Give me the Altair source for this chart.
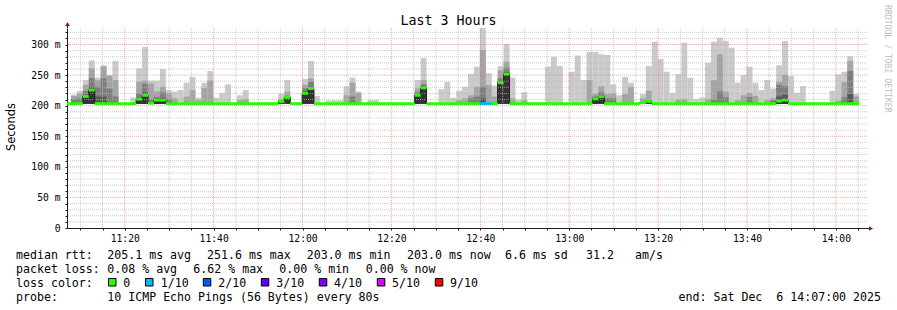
import altair as alt
import numpy as np
import pandas as pd

# ---------------- data ----------------
FIRST_STEP = "2025-12-06 11:06:34"      # start of first 80 s RRD step
STEP_S = 80

median_ms = [
    203.3, 203.3, 203.3, 215.0, 225.5, 203.3, 203.3, 203.3, 203.3, 203.3,
    203.3, 203.3, 210.5, 217.0, 204.0, 209.0, 209.0, 203.3, 203.3, 203.3,
    203.3, 203.3, 203.3, 203.3, 203.3, 203.3, 203.3, 203.3, 203.3, 203.3,
    203.3, 203.3, 203.3, 203.3, 203.3, 203.3, 207.0, 213.5, 203.3, 203.3,
    220.0, 228.0, 203.3, 203.3, 203.3, 203.3, 203.3, 203.3, 203.3, 203.3,
    203.3, 203.3, 203.3, 203.3, 203.3, 203.3, 203.3, 203.3, 203.3, 217.0,
    229.0, 203.3, 203.3, 203.3, 203.3, 203.3, 203.3, 203.3, 203.3, 203.3,
    203.3, 203.3, 203.3, 237.5, 251.6, 203.3, 203.3, 203.3, 203.3, 203.3,
    203.3, 203.3, 203.3, 203.3, 203.3, 203.3, 203.3, 203.3, 203.3, 211.0,
    214.6, 203.3, 203.3, 203.3, 203.3, 203.3, 203.3, 205.0, 207.0, 203.3,
    203.3, 203.3, 203.3, 203.3, 203.3, 203.3, 203.3, 203.3, 203.3, 203.3,
    203.3, 203.3, 203.3, 203.3, 203.3, 203.3, 203.3, 203.3, 203.3, 203.3,
    207.5, 209.0, 203.3, 203.3, 203.3, 203.3, 203.3, 203.3, 203.3, 203.3,
    203.3, 203.3, 203.3, 203.3,
]
# highest ping of each step (lightest smoke)
ping10_ms = [
    203.3, 218.0, 224.0, 242.0, 274.0, 246.0, 266.0, 250.0, 273.0, 203.3,
    203.3, 213.5, 261.0, 296.0, 241.0, 241.0, 260.0, 225.5, 223.0, 225.5,
    237.5, 247.0, 213.0, 237.5, 256.6, 213.0, 221.0, 235.0, 203.3, 217.0,
    225.5, 203.3, 203.3, 203.3, 203.3, 203.3, 220.0, 242.0, 203.3, 203.3,
    243.5, 273.0, 215.7, 203.3, 208.5, 209.0, 209.0, 232.0, 246.0, 223.0,
    203.3, 209.0, 209.0, 203.3, 203.3, 203.3, 203.3, 203.3, 203.3, 242.0,
    278.0, 203.3, 203.3, 227.0, 239.0, 213.0, 224.5, 231.0, 252.0, 263.6,
    328.0, 253.0, 232.7, 265.0, 301.0, 246.0, 210.0, 222.0, 203.3, 203.3,
    203.3, 264.0, 280.0, 265.0, 203.3, 255.5, 282.0, 242.0, 288.0, 288.0,
    284.0, 283.0, 235.0, 217.0, 247.0, 237.5, 203.3, 219.0, 265.0, 304.6,
    276.0, 255.5, 221.0, 251.7, 303.0, 245.7, 211.0, 213.5, 270.0, 304.6,
    311.0, 305.7, 294.8, 237.5, 250.0, 263.6, 237.5, 225.5, 242.0, 228.0,
    266.0, 305.7, 248.4, 221.0, 232.0, 203.3, 203.3, 203.3, 203.3, 224.5,
    251.0, 255.5, 281.0, 219.0,
]
ping9_ms = [
    203.3, 216.0, 220.0, 234.0, 261.0, 242.0, 264.0, 249.0, 242.0, 203.3,
    203.3, 203.3, 239.0, 241.0, 236.0, 223.0, 231.0, 221.0, 212.0, 203.3,
    214.6, 225.5, 209.0, 229.0, 241.0, 203.3, 203.3, 203.3, 203.3, 209.0,
    211.0, 203.3, 203.3, 203.3, 203.3, 203.3, 211.0, 223.0, 203.3, 203.3,
    234.0, 244.6, 203.3, 203.3, 203.3, 203.3, 203.3, 217.0, 237.5, 221.0,
    203.3, 203.3, 203.3, 203.3, 203.3, 203.3, 203.3, 203.3, 203.3, 228.0,
    242.0, 203.3, 203.3, 203.3, 203.3, 203.3, 209.0, 212.0, 217.0, 231.0,
    291.0, 234.0, 215.0, 258.0, 272.0, 212.0, 203.3, 209.0, 203.3, 203.3,
    203.3, 203.3, 203.3, 203.3, 203.3, 203.3, 203.3, 203.3, 242.0, 220.0,
    232.0, 219.0, 220.0, 203.3, 219.0, 231.0, 203.3, 212.0, 224.5, 203.3,
    203.3, 203.3, 203.3, 210.0, 211.0, 203.3, 203.3, 203.3, 211.0, 242.0,
    284.0, 223.0, 203.3, 209.0, 217.0, 221.0, 215.7, 203.3, 209.0, 212.0,
    239.0, 250.0, 203.3, 203.3, 203.3, 203.3, 203.3, 203.3, 203.3, 203.3,
    208.0, 239.0, 273.5, 215.0,
]
ping8_ms = [
    203.3, 211.0, 212.0, 224.0, 245.0, 231.0, 245.0, 228.0, 215.0, 203.3,
    203.3, 203.3, 220.0, 236.0, 210.0, 214.0, 222.0, 211.0, 203.3, 203.3,
    203.3, 203.3, 203.3, 203.3, 203.3, 203.3, 203.3, 203.3, 203.3, 203.3,
    203.3, 203.3, 203.3, 203.3, 203.3, 203.3, 209.0, 216.0, 203.3, 203.3,
    228.0, 239.0, 203.3, 203.3, 203.3, 203.3, 203.3, 203.3, 215.0, 203.3,
    203.3, 203.3, 203.3, 203.3, 203.3, 203.3, 203.3, 203.3, 203.3, 222.0,
    235.0, 203.3, 203.3, 203.3, 203.3, 203.3, 203.3, 203.3, 212.0, 215.0,
    231.0, 203.3, 203.3, 245.0, 262.0, 203.3, 203.3, 203.3, 203.3, 203.3,
    203.3, 203.3, 203.3, 203.3, 203.3, 203.3, 203.3, 203.3, 203.3, 215.0,
    222.0, 212.0, 212.0, 203.3, 203.3, 203.3, 203.3, 203.3, 203.3, 203.3,
    203.3, 203.3, 203.3, 203.3, 203.3, 203.3, 203.3, 203.3, 203.3, 210.0,
    223.0, 213.5, 203.3, 203.3, 203.3, 214.0, 203.3, 203.3, 203.3, 209.0,
    234.0, 232.0, 203.3, 203.3, 203.3, 203.3, 203.3, 203.3, 203.3, 203.3,
    203.3, 213.5, 256.6, 203.3,
]
ping7_ms = [
    203.3, 203.3, 203.3, 218.0, 230.0, 215.0, 215.0, 203.3, 203.3, 203.3,
    203.3, 203.3, 213.0, 222.0, 204.0, 211.0, 212.0, 203.3, 203.3, 203.3,
    203.3, 203.3, 203.3, 203.3, 203.3, 203.3, 203.3, 203.3, 203.3, 203.3,
    203.3, 203.3, 203.3, 203.3, 203.3, 203.3, 207.0, 213.5, 203.3, 203.3,
    223.0, 231.0, 203.3, 203.3, 203.3, 203.3, 203.3, 203.3, 203.3, 203.3,
    203.3, 203.3, 203.3, 203.3, 203.3, 203.3, 203.3, 203.3, 203.3, 219.0,
    231.0, 203.3, 203.3, 203.3, 203.3, 203.3, 203.3, 203.3, 203.3, 203.3,
    212.0, 203.3, 203.3, 240.0, 255.0, 203.3, 203.3, 203.3, 203.3, 203.3,
    203.3, 203.3, 203.3, 203.3, 203.3, 203.3, 203.3, 203.3, 203.3, 213.0,
    217.0, 203.3, 203.3, 203.3, 203.3, 203.3, 203.3, 205.0, 207.0, 203.3,
    203.3, 203.3, 203.3, 203.3, 203.3, 203.3, 203.3, 203.3, 203.3, 203.3,
    203.3, 203.3, 203.3, 203.3, 203.3, 203.3, 203.3, 203.3, 203.3, 203.3,
    215.0, 218.0, 203.3, 203.3, 203.3, 203.3, 203.3, 203.3, 203.3, 203.3,
    203.3, 203.3, 219.0, 203.3,
]
loss_idx = [
    0, 0, 0, 0, 0, 0, 0, 0, 0, 0,
    0, 0, 0, 0, 0, 0, 0, 0, 0, 0,
    0, 0, 0, 0, 0, 0, 0, 0, 0, 0,
    0, 0, 0, 0, 0, 0, 0, 0, 0, 0,
    0, 0, 0, 0, 0, 0, 0, 0, 0, 0,
    0, 0, 0, 0, 0, 0, 0, 0, 0, 0,
    0, 0, 0, 0, 0, 0, 0, 0, 0, 0,
    1, 1, 0, 0, 0, 0, 0, 0, 0, 0,
    0, 0, 0, 0, 0, 0, 0, 0, 0, 0,
    0, 0, 0, 0, 0, 0, 0, 0, 0, 0,
    0, 0, 0, 0, 0, 0, 0, 0, 0, 0,
    0, 0, 0, 0, 0, 0, 0, 0, 0, 0,
    0, 0, 0, 0, 0, 0, 0, 0, 0, 0,
    0, 0, 0, 0,
]
SMOKE_BASE_MS = 203.0

loss_labels = ["0", "1/10", "2/10", "3/10", "4/10", "5/10", "9/10"]
loss_colors = ["#26ff00", "#00b8ff", "#0059ff", "#5e00ff", "#7e00ff", "#dd00ff", "#ff0000"]

y_major = [50, 100, 150, 200, 250, 300]
x_major = ["11:20", "11:40", "12:00", "12:20", "12:40", "13:00", "13:20", "13:40", "14:00"]

title_text = "Last 3 Hours"
ylabel_text = "Seconds"
watermark_text = "RRDTOOL / TOBI OETIKER"
line1 = ["median rtt:", "205.1 ms avg", "251.6 ms max", "203.0 ms min", "203.0 ms now",
         "6.6 ms sd", "31.2", "am/s"]
line2 = ["packet loss:", "0.08 % avg", "6.62 % max", "0.00 % min", "0.00 % now"]
line3_head = "loss color:"
line4 = ["probe:", "10 ICMP Echo Pings (56 Bytes) every 80s"]
end_text = "end: Sat Dec \u00a06 14:07:00 2025"

# ---------------- layout constants ----------------
PL, PT, W, H = 67, 28, 800, 200
MONO = "DejaVu Sans Mono"
line1_x = [16, 107.3, 207, 306.7, 407, 505, 586, 635]
line2_x = [16, 107.3, 193.3, 279.3, 365.7]
swatch_x = [108.5, 145.5, 203.3, 261.3, 319.3, 377.3, 435.3]
swatch_lbl_x = [123.3, 160.7, 218.3, 276.3, 334, 392, 450]

# ---------------- tables ----------------
n = len(median_ms)
t0 = pd.Timestamp(FIRST_STEP) + pd.to_timedelta(np.arange(n) * STEP_S, unit="s")
t1 = t0 + pd.Timedelta(seconds=STEP_S)
df = pd.DataFrame({
    "t0": t0, "t1": t1, "med": median_ms, "p10": ping10_ms, "p9": ping9_ms,
    "p8": ping8_ms, "p7": ping7_ms, "lo": SMOKE_BASE_MS,
    "loss": [loss_labels[i] for i in loss_idx],
})
line_df = pd.DataFrame({"t": list(t0) + [t1[-1]], "med": median_ms + [median_ms[-1]]})

day = pd.Timestamp("2025-12-06")
def dt(hm):
    h, m = map(int, hm.split(":"))
    return alt.DateTime(year=2025, month=12, date=6, hours=h, minutes=m)

xs = alt.Scale(domain=[dt("11:07"), dt("14:07")])
ys = alt.Scale(domain=[0, 327], nice=False, zero=True)

five_min = pd.date_range("2025-12-06 11:10", "2025-12-06 14:05", freq="5min")
x_tick_vals = [dt(t.strftime("%H:%M")) for t in five_min]
major_set = set(x_major)
minor_times = pd.DataFrame({"t": [t for t in five_min if t.strftime("%H:%M") not in major_set]})
major_times = pd.DataFrame({"t": [day + pd.Timedelta(hours=int(s[:2]), minutes=int(s[3:])) for s in x_major]})
minor_vals = pd.DataFrame({"v": [v for v in range(10, 330, 10) if v % 50 != 0]})
major_vals = pd.DataFrame({"v": y_major})

xaxis = alt.Axis(values=x_tick_vals, title=None, grid=False,
                 labelExpr="minutes(datum.value) % 20 == 0 ? timeFormat(datum.value, '%H:%M') : ''",
                 labelFont=MONO, labelFontSize=9.7, labelColor="#000000",
                 labelBaseline="alphabetic", labelPadding=11.7, labelOverlap=False, labelFlush=False,
                 tickSize=2, tickColor="#1f1f1f", domainColor="#1f1f1f")
yaxis = alt.Axis(values=list(range(0, 330, 10)), title=None, grid=False,
                 labelExpr="datum.value % 50 == 0 ? (datum.value == 0 ? '0' : datum.value + ' m') : ''",
                 labelFont=MONO, labelFontSize=9.7, labelColor="#000000",
                 labelBaseline="middle", labelPadding=5, labelOverlap=False, labelFlush=False,
                 tickSize=2, tickColor="#1f1f1f", domainColor="#1f1f1f")

X0 = alt.X("t0:T", scale=xs, axis=xaxis)
YLO = alt.Y("lo:Q", scale=ys, axis=yaxis)

def band(field, color):
    return alt.Chart(df).transform_filter(f"datum.{field} > datum.med + 0.5").mark_rect(
        color=color, clip=True).encode(x=X0, x2="t1:T", y=YLO, y2=f"{field}:Q")

layers = [
    band("p10", "#cacaca"),
    band("p9", "#a4a4a4"),
    band("p8", "#7e7e7e"),
    band("p7", "#585858"),
    alt.Chart(df).transform_filter("datum.med > 204.5").mark_rect(color="#323232", clip=True)
        .encode(x=X0, x2="t1:T", y=YLO, y2="med:Q"),
    # grid
    alt.Chart(minor_vals).mark_rule(color="#b8b8b8", strokeDash=[1, 1], strokeWidth=1, opacity=0.7)
        .encode(y=alt.Y("v:Q", scale=ys, axis=yaxis)),
    alt.Chart(minor_times).mark_rule(color="#b8b8b8", strokeDash=[1, 1], strokeWidth=1, opacity=0.7)
        .encode(x=alt.X("t:T", scale=xs, axis=xaxis)),
    alt.Chart(major_vals).mark_rule(color="#e07070", strokeDash=[1, 1], strokeWidth=1, opacity=0.6)
        .encode(y=alt.Y("v:Q", scale=ys, axis=yaxis)),
    alt.Chart(major_times).mark_rule(color="#e07070", strokeDash=[1, 1], strokeWidth=1, opacity=0.6)
        .encode(x=alt.X("t:T", scale=xs, axis=xaxis)),
    # median step line
    alt.Chart(line_df).mark_line(interpolate="step-after", color="#202020", strokeWidth=1, clip=True)
        .encode(x=alt.X("t:T", scale=xs, axis=xaxis), y=alt.Y("med:Q", scale=ys, axis=yaxis)),
    # loss coloured median
    alt.Chart(df).transform_calculate(mlo="datum.med - 2.3", mhi="datum.med + 2.3")
        .mark_rect(clip=True)
        .encode(x=X0, x2="t1:T", y=alt.Y("mlo:Q", scale=ys, axis=yaxis), y2="mhi:Q",
                color=alt.Color("loss:N", scale=alt.Scale(domain=loss_labels, range=loss_colors),
                                legend=None)),
]

one = alt.Data(values=[{"a": 1}])

def label(text, x, y, size=11.6, align="left", angle=0, color="#000000", font=MONO):
    return alt.Chart(one).mark_text(text=text, font=font, fontSize=size, align=align,
                                    baseline="alphabetic", angle=angle, color=color).encode(
        x=alt.value(x - PL), y=alt.value(y - PT))

# axis extensions and arrows
layers.append(alt.Chart(one).mark_rule(color="#1f1f1f").encode(
    x=alt.value(0.5), y=alt.value(-3), y2=alt.value(0)))
layers.append(alt.Chart(one).mark_rule(color="#1f1f1f").encode(
    x=alt.value(W), x2=alt.value(W + 3), y=alt.value(H + 0.5)))
layers.append(alt.Chart(one).mark_point(shape="triangle-up", filled=True, size=22, color="#7f1f1f",
                                        opacity=1).encode(x=alt.value(0.5), y=alt.value(-4)))
layers.append(alt.Chart(one).mark_point(shape="triangle-right", filled=True, size=22, color="#7f1f1f",
                                        opacity=1).encode(x=alt.value(W + 4), y=alt.value(H + 0.5)))

# texts
layers.append(label(title_text, 448.5, 24.5, size=13.3, align="center"))
layers.append(label(ylabel_text, 15, 127, size=11.4, align="center", angle=270, font="DejaVu Sans"))
layers.append(label(watermark_text, 885, 5, size=8.15, angle=90, color="#c0c0c0"))
for s, x in zip(line1, line1_x):
    layers.append(label(s, x, 258.5))
for s, x in zip(line2, line2_x):
    layers.append(label(s, x, 272.5))
layers.append(label(line3_head, 16, 286.5))
for lbl, col, sx, lx in zip(loss_labels, loss_colors, swatch_x, swatch_lbl_x):
    layers.append(alt.Chart(one).mark_rect(fill=col, stroke="#000000", strokeWidth=1).encode(
        x=alt.value(sx - PL), x2=alt.value(sx + 7.5 - PL), y=alt.value(278.5 - PT), y2=alt.value(286 - PT)))
    layers.append(label(lbl, lx, 286.5))
layers.append(label(line4[0], 16, 300.5))
layers.append(label(line4[1], 107.3, 300.5))
layers.append(label(end_text, 881, 300.5, align="right"))

chart = alt.layer(*layers).properties(
    width=W, height=H,
    padding={"left": PL, "top": PT, "right": 897 - PL - W, "bottom": 310 - PT - H},
    autosize=alt.AutoSizeParams(type="none"),
    background="#ffffff",
).configure_view(strokeWidth=0)

chart.save("out.html", embed_options={"renderer": "svg", "actions": False})
